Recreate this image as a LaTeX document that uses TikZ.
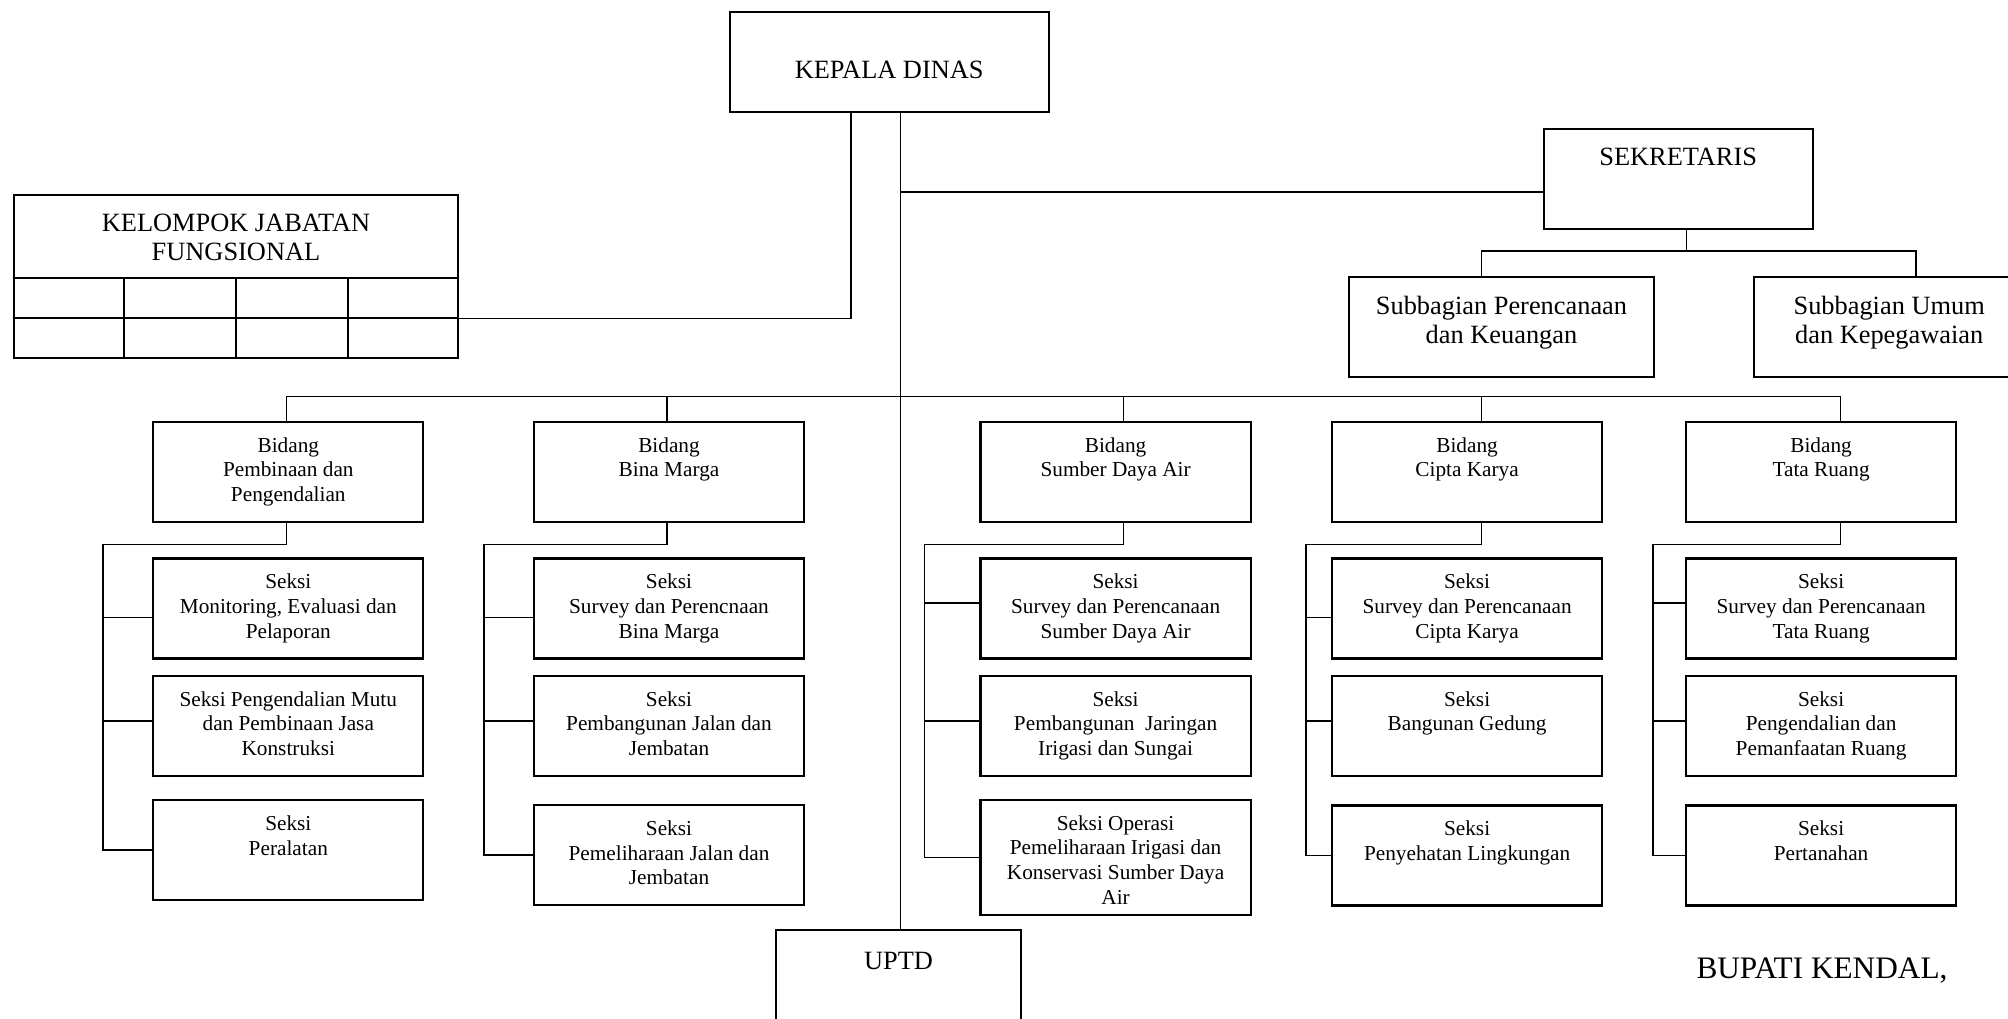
\documentclass[tikz,border=0pt]{standalone}
\usepackage{fontspec}
\setmainfont{Liberation Serif}
\usetikzlibrary{calc}

\tikzset{
  unit/.style={draw, line width=0.6pt, minimum width=2.7cm, minimum height=1cm, inner sep=0pt},
  head/.style={draw, line width=0.6pt, inner sep=0pt},
  txt/.style={anchor=north, inner sep=0pt, align=center, yshift=-0.16cm, font=\fontsize{6.05}{7}\selectfont},
  bigtxt/.style={anchor=north, inner sep=0pt, align=center, yshift=-0.19cm, font=\fontsize{7.5}{8.4}\selectfont},
  link/.style={line width=0.45pt}
}

\begin{document}
\begin{tikzpicture}[x=0.01cm, y=-0.01cm]
\clip (0,0) rectangle (2008,1019);

% kepala dinas, sekretaris
\node[head, minimum width=3.19cm, minimum height=1cm] (kd) at (889.2,61.7) {};
\node[bigtxt, yshift=-0.31cm] (kdt) at (kd.north) {KEPALA DINAS};
\node[head, minimum width=2.69cm, minimum height=1cm] (sek) at (1678.2,179.2) {};
\node[bigtxt] (sekt) at (sek.north) {SEKRETARIS};
\node[head, minimum width=3.05cm, minimum height=1cm] (sbp) at (1501.5,327.3) {};
\node[bigtxt] (sbpt) at (sbp.north) {Subbagian Perencanaan\\dan Keuangan};
\node[head, minimum width=2.71cm, minimum height=1cm] (sbu) at (1889.2,327.3) {};
\node[bigtxt] (sbut) at (sbu.north) {Subbagian Umum\\dan Kepegawaian};

% kelompok jabatan fungsional
\node[head, minimum width=4.44cm, minimum height=1.627cm] (kjf) at (236,276.4) {};
\node[bigtxt] (kjft) at (kjf.north) {KELOMPOK JABATAN\\FUNGSIONAL};
\draw[line width=0.6pt] ($(kjf.south west)+(0,-81)$) -- ($(kjf.south east)+(0,-81)$);
\draw[line width=0.6pt] ($(kjf.south west)+(0,-40.4)$) -- ($(kjf.south east)+(0,-40.4)$);
\foreach \f in {0.25,0.5,0.75}
  \draw[line width=0.6pt] ($(kjf.south west)!\f!(kjf.south east)$) -- ++(0,-81);

% uptd
\node[head, minimum width=2.44cm, minimum height=1.1cm] (uptd) at (898.5,985) {};
\node[bigtxt, yshift=-0.04cm] (uptdt) at (uptd.north) {UPTD};

% bidang
\node[unit] (b1) at (288.3,471.9) {};
\node[txt] (b1t) at (b1.north) {Bidang\\Pembinaan dan\\Pengendalian};
\node[unit] (b2) at (669,471.9) {};
\node[txt] (b2t) at (b2.north) {Bidang\\Bina Marga};
\node[unit] (b3) at (1115.6,471.9) {};
\node[txt] (b3t) at (b3.north) {Bidang\\Sumber Daya Air};
\node[unit] (b4) at (1467.1,471.9) {};
\node[txt] (b4t) at (b4.north) {Bidang\\Cipta Karya};
\node[unit] (b5) at (1821.1,471.9) {};
\node[txt] (b5t) at (b5.north) {Bidang\\Tata Ruang};

% seksi
\node[unit] (s11) at (288.3,608.5) {};
\node[txt] (s11t) at (s11.north) {Seksi\\Monitoring, Evaluasi dan\\Pelaporan};
\node[unit] (s12) at (288.3,725.9) {};
\node[txt] (s12t) at (s12.north) {Seksi Pengendalian Mutu\\dan Pembinaan Jasa\\Konstruksi};
\node[unit] (s13) at (288.3,850) {};
\node[txt] (s13t) at (s13.north) {Seksi\\Peralatan};

\node[unit] (s21) at (669,608.5) {};
\node[txt] (s21t) at (s21.north) {Seksi\\Survey dan Perencnaan\\Bina Marga};
\node[unit] (s22) at (669,725.9) {};
\node[txt] (s22t) at (s22.north) {Seksi\\Pembangunan Jalan dan\\Jembatan};
\node[unit] (s23) at (669,855) {};
\node[txt] (s23t) at (s23.north) {Seksi\\Pemeliharaan Jalan dan\\Jembatan};

\node[unit] (s31) at (1115.6,608.5) {};
\node[txt] (s31t) at (s31.north) {Seksi\\Survey dan Perencanaan\\Sumber Daya Air};
\node[unit] (s32) at (1115.6,725.9) {};
\node[txt] (s32t) at (s32.north) {Seksi\\Pembangunan\ \ Jaringan\\Irigasi dan Sungai};
\node[unit, minimum height=1.15cm] (s33) at (1115.6,857.5) {};
\node[txt] (s33t) at (s33.north) {Seksi Operasi\\Pemeliharaan Irigasi dan\\Konservasi Sumber Daya\\Air};

\node[unit] (s41) at (1467.1,608.5) {};
\node[txt] (s41t) at (s41.north) {Seksi\\Survey dan Perencanaan\\Cipta Karya};
\node[unit] (s42) at (1467.1,725.9) {};
\node[txt] (s42t) at (s42.north) {Seksi\\Bangunan Gedung};
\node[unit] (s43) at (1467.1,855.5) {};
\node[txt] (s43t) at (s43.north) {Seksi\\Penyehatan Lingkungan};

\node[unit] (s51) at (1821.1,608.5) {};
\node[txt] (s51t) at (s51.north) {Seksi\\Survey dan Perencanaan\\Tata Ruang};
\node[unit] (s52) at (1821.1,725.9) {};
\node[txt] (s52t) at (s52.north) {Seksi\\Pengendalian dan\\Pemanfaatan Ruang};
\node[unit] (s53) at (1821.1,855.5) {};
\node[txt] (s53t) at (s53.north) {Seksi\\Pertanahan};

\node[anchor=base, inner sep=0pt, font=\fontsize{8.9}{10}\selectfont] (bupati) at (1822,979) {BUPATI KENDAL,};

% garis
\coordinate (trk) at ($(kd.south)+(11.5,0)$);
\coordinate (bus) at (900.7,396.7);
\draw[link] (trk) -- (trk |- uptd.north);
\draw[link] ($(kd.south)+(-38,0)$) |- ($(kjf.south east)+(0,-40.4)$);
\draw[link] ($(trk |- sek.west)+(0,13)$) -- ($(sek.west)+(0,13)$);
\draw[link] ($(sek.south)+(8.4,0)$) -- ++(0,21) coordinate (sekb);
\draw[link] (sekb) -| ($(sbp.north)+(-20,0)$);
\draw[link] (sekb) -| ($(sbu.north)+(27,0)$);

\draw[link] ($(b1.north |- bus)+(-2,0)$) -- ($(b5.north |- bus)+(19.4,0)$);

\foreach \c/\d/\o/\r in {1/0.49/-2/9,2/0.49/-2/9,3/0.55/7.7/-5.5,4/0.25/14.5/9,5/0.32/19.4/-5.5}{
  \draw[link] ($(b\c.north |- bus)+(\o,0)$) -- ($(b\c.north)+(\o,0)$);
  \draw[link] ($(b\c.south)+(\o,0)$) -- ++(0,21.6) -| ([xshift=-\d cm]s\c3.west) -- (s\c3.west);
  \draw[link] ([xshift=-\d cm, yshift=-\r*0.01cm]s\c1.west) -- ([yshift=-\r*0.01cm]s\c1.west);
  \draw[link] ([xshift=-\d cm, yshift=0.05cm]s\c2.west) -- ([yshift=0.05cm]s\c2.west);
}

\end{tikzpicture}
\end{document}
